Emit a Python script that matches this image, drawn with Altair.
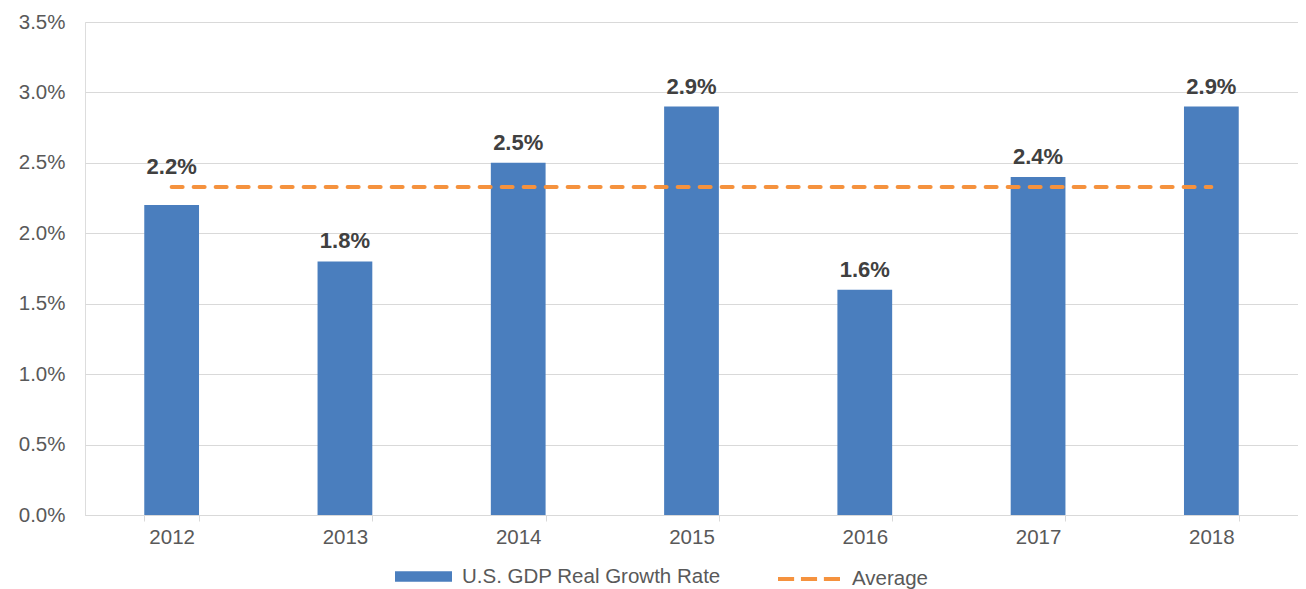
import altair as alt
import pandas as pd

years = ["2012", "2013", "2014", "2015", "2016", "2017", "2018"]
growth = [2.2, 1.8, 2.5, 2.9, 1.6, 2.4, 2.9]
series_bar = "U.S. GDP Real Growth Rate"
series_avg = "Average"
y_ticks = [0, 0.5, 1.0, 1.5, 2.0, 2.5, 3.0, 3.5]

df = pd.DataFrame({"year": years, "value": growth})

FONT = "Liberation Sans"
BLUE = "#4A7EBE"
ORANGE = "#F5923E"
AXIS_FS = 20.5
LBL_FS = 22

x_enc = alt.X(
    "year:N",
    sort=years,
    scale=alt.Scale(paddingInner=0.684, paddingOuter=0.342),
    axis=alt.Axis(
        title=None, labelAngle=0, labelFont=FONT, labelFontSize=AXIS_FS,
        labelColor="#595959", labelPadding=6, tickBand="extent", tickExtra=True,
        ticks=True, tickSize=6, tickColor="#D9D9D9", domainColor="#D9D9D9",
        grid=False,
    ),
)

y_scale = alt.Scale(domain=[0, 3.5], nice=False)

bars = alt.Chart(df).mark_bar(color=BLUE).transform_calculate(
    series=f"'{series_bar}'"
).encode(
    x=x_enc,
    y=alt.Y(
        "value:Q", scale=y_scale,
        axis=alt.Axis(
            title=None, values=y_ticks, labelExpr="format(datum.value, '.1f') + '%'",
            labelFont=FONT, labelFontSize=AXIS_FS, labelColor="#595959", labelPadding=20,
            ticks=False, domain=False, grid=True, gridColor="#D9D9D9", gridWidth=1.2,
        ),
    ),
    color=alt.Color(
        "series:N",
        scale=alt.Scale(domain=[series_bar], range=[BLUE]),
        legend=alt.Legend(
            title=None, orient="none", legendX=310, legendY=526, padding=0,
            symbolType="M-1,-0.18H1V0.18H-1Z", symbolSize=3249, symbolStrokeWidth=0,
            labelFont=FONT, labelFontSize=AXIS_FS, labelColor="#595959", labelOffset=10,
            labelLimit=600,
        ),
    ),
)

labels_main = alt.Chart(df).transform_filter("datum.year != '2012'").transform_calculate(
    lbl="format(datum.value, '.1f') + '%'"
).mark_text(
    baseline="alphabetic", dy=-13, font=FONT, fontSize=LBL_FS, fontWeight="bold", color="#404040"
).encode(
    x=alt.X("year:N", sort=years),
    y=alt.Y("value:Q", scale=y_scale),
    text="lbl:N",
)

labels_2012 = alt.Chart(df).transform_filter("datum.year == '2012'").transform_calculate(
    lbl="format(datum.value, '.1f') + '%'"
).mark_text(
    baseline="alphabetic", dy=-31, font=FONT, fontSize=LBL_FS, fontWeight="bold", color="#404040"
).encode(
    x=alt.X("year:N", sort=years),
    y=alt.Y("value:Q", scale=y_scale),
    text="lbl:N",
)

avg_line = alt.Chart(df).transform_joinaggregate(
    avg="mean(value)"
).transform_calculate(
    series2=f"'{series_avg}'"
).mark_line(
    strokeWidth=4, strokeDash=[11, 11], strokeCap="round"
).encode(
    x=alt.X("year:N", sort=years),
    y=alt.Y("avg:Q", scale=y_scale),
    color=alt.Color(
        "series2:N",
        scale=alt.Scale(domain=[series_avg], range=[ORANGE]),
        legend=alt.Legend(
            title=None, orient="none", legendX=691, legendY=524, padding=0,
            symbolType="M-1,0H-0.48M-0.26,0H0.26M0.48,0H1", symbolSize=3844,
            symbolStrokeWidth=4, symbolDash=[1000, 0],
            labelFont=FONT, labelFontSize=AXIS_FS, labelColor="#595959", labelOffset=10,
            labelLimit=400,
        ),
    ),
)

chart = alt.layer(bars, avg_line, labels_main, labels_2012).resolve_scale(
    color="independent"
).properties(
    width=1213, height=493,
    padding={"left": 77, "top": 14, "right": 0, "bottom": 74},
    autosize=alt.AutoSizeParams(type="none"),
).configure_view(stroke=None).configure(background="white")

chart.save("out.html", embed_options={"renderer": "svg", "actions": False})
